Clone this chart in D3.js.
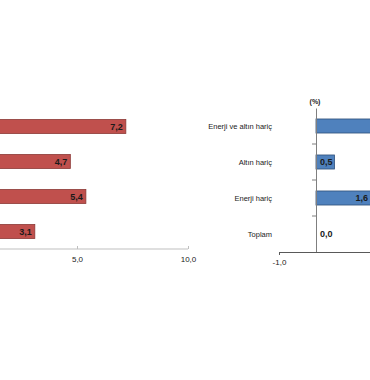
<!DOCTYPE html>
<html>
<head>
<meta charset="utf-8">
<script src="https://cdn.jsdelivr.net/npm/d3@7"></script>
<style>
  body { margin: 0; background: #fff; }
  svg { display: block; font-family: "Liberation Sans", Arial, sans-serif; }
</style>
</head>
<body>
<div id="chart"></div>
<script>
// categories (same for both panels)
const categories = ['Enerji ve altın hariç', 'Altın hariç', 'Enerji hariç', 'Toplam']

// left panel (red), annual change
const leftValues = [7.2, 4.7, 5.4, 3.1]
const leftTicks = [5, 10]

// right panel (blue), monthly change
const rightValues = [2.4, 0.5, 1.6, 0.0]
const rightTicks = [-1]

const fmt = v => d3.format('.1f')(v).replace('.', ',').replace('\u2212', '-')

const svg = d3.select('#chart').append('svg')
    .attr('width', 370)
    .attr('height', 380)

svg.append('rect').attr('width', 370).attr('height', 380).attr('fill', '#fff')

// ---------- left panel ----------
const xL = d3.scaleLinear().domain([0, 10]).range([-34, 188])
const yL = d3.scaleBand().domain(categories).range([109, 249])
    .paddingInner(0.6).paddingOuter(0.3)

const gL = svg.append('g')

gL.selectAll('rect.bar').data(leftValues)
    .enter().append('rect')
    .attr('class', 'bar')
    .attr('x', xL(0))
    .attr('y', (d, i) => yL(categories[i]))
    .attr('width', d => xL(d) - xL(0))
    .attr('height', yL.bandwidth())
    .attr('fill', '#c0504d')
    .attr('stroke', '#8c3836')
    .attr('stroke-width', 0.8)

gL.selectAll('text.val').data(leftValues)
    .enter().append('text')
    .attr('class', 'val')
    .attr('x', d => xL(d) - 3)
    .attr('y', (d, i) => yL(categories[i]) + yL.bandwidth() / 2)
    .attr('dominant-baseline', 'central')
    .attr('text-anchor', 'end')
    .attr('font-size', 9)
    .attr('font-weight', 'bold')
    .attr('fill', '#1a1a1a')
    .text(fmt)

const axL = gL.append('g')
    .attr('transform', 'translate(0,249)')
    .call(d3.axisBottom(xL).tickValues(leftTicks).tickFormat(fmt).tickSize(3).tickSizeOuter(0))
axL.select('.domain').attr('stroke', '#bfbfbf').attr('d', 'M0,0H188')
axL.selectAll('.tick line').attr('stroke', '#bfbfbf').attr('y2', -3)
axL.selectAll('.tick text').attr('font-size', 8).attr('fill', '#222').attr('dy', '0.9em')
    .attr('font-family', '"Liberation Sans", Arial, sans-serif')

// ---------- right panel ----------
const xR = d3.scaleLinear().domain([-1, 3]).range([279, 427])
const yR = d3.scaleBand().domain(categories).range([108, 252])
    .paddingInner(0.61).paddingOuter(0.305)

const gR = svg.append('g')

gR.selectAll('rect.bar').data(rightValues)
    .enter().append('rect')
    .attr('class', 'bar')
    .attr('x', xR(0))
    .attr('y', (d, i) => yR(categories[i]))
    .attr('width', d => xR(d) - xR(0))
    .attr('height', yR.bandwidth())
    .attr('fill', '#4f81bd')
    .attr('stroke', '#2f4f7a')
    .attr('stroke-width', 0.8)
    .attr('display', d => d === 0 ? 'none' : null)

gR.selectAll('text.val').data(rightValues)
    .enter().append('text')
    .attr('class', 'val')
    .attr('x', d => d === 0 ? xR(0) + 4 : Math.min(xR(d) - 2, 368))
    .attr('y', (d, i) => yR(categories[i]) + yR.bandwidth() / 2)
    .attr('dominant-baseline', 'central')
    .attr('text-anchor', d => d === 0 ? 'start' : 'end')
    .attr('font-size', 9)
    .attr('font-weight', 'bold')
    .attr('fill', '#1a1a1a')
    .attr('display', d => xR(d) > 400 ? 'none' : null)
    .text(fmt)

// category labels
gR.selectAll('text.cat').data(categories)
    .enter().append('text')
    .attr('class', 'cat')
    .attr('x', 272)
    .attr('y', d => yR(d) + yR.bandwidth() / 2)
    .attr('dominant-baseline', 'central')
    .attr('text-anchor', 'end')
    .attr('font-size', 7.5)
    .attr('fill', '#1a1a1a')
    .text(d => d)

// vertical zero axis with category separators
const axY = gR.append('g')
    .attr('transform', `translate(${xR(0)},0)`)
    .call(d3.axisLeft(yR).tickValues([]).tickSizeOuter(0))
axY.select('.domain').attr('stroke', '#7f7f7f')
axY.selectAll('line.sep').data(categories.slice(1))
    .enter().append('line')
    .attr('class', 'sep')
    .attr('x1', -4).attr('x2', 0)
    .attr('y1', d => yR(d) - yR.step() * yR.paddingInner() / 2)
    .attr('y2', d => yR(d) - yR.step() * yR.paddingInner() / 2)
    .attr('stroke', '#7f7f7f')

const axR = gR.append('g')
    .attr('transform', 'translate(0,252)')
    .call(d3.axisBottom(xR).tickValues(rightTicks).tickFormat(fmt).tickSize(3).tickSizeOuter(0))
axR.select('.domain').attr('stroke', '#595959')
axR.selectAll('.tick line').attr('stroke', '#595959')
axR.selectAll('.tick text').attr('font-size', 8).attr('fill', '#222').attr('dy', '0.9em')
    .attr('font-family', '"Liberation Sans", Arial, sans-serif')

gR.append('text')
    .attr('x', xR(0) - 1)
    .attr('y', 104)
    .attr('text-anchor', 'middle')
    .attr('font-size', 7)
    .attr('font-weight', 'bold')
    .attr('fill', '#222')
    .text('(%)')
</script>
</body>
</html>
